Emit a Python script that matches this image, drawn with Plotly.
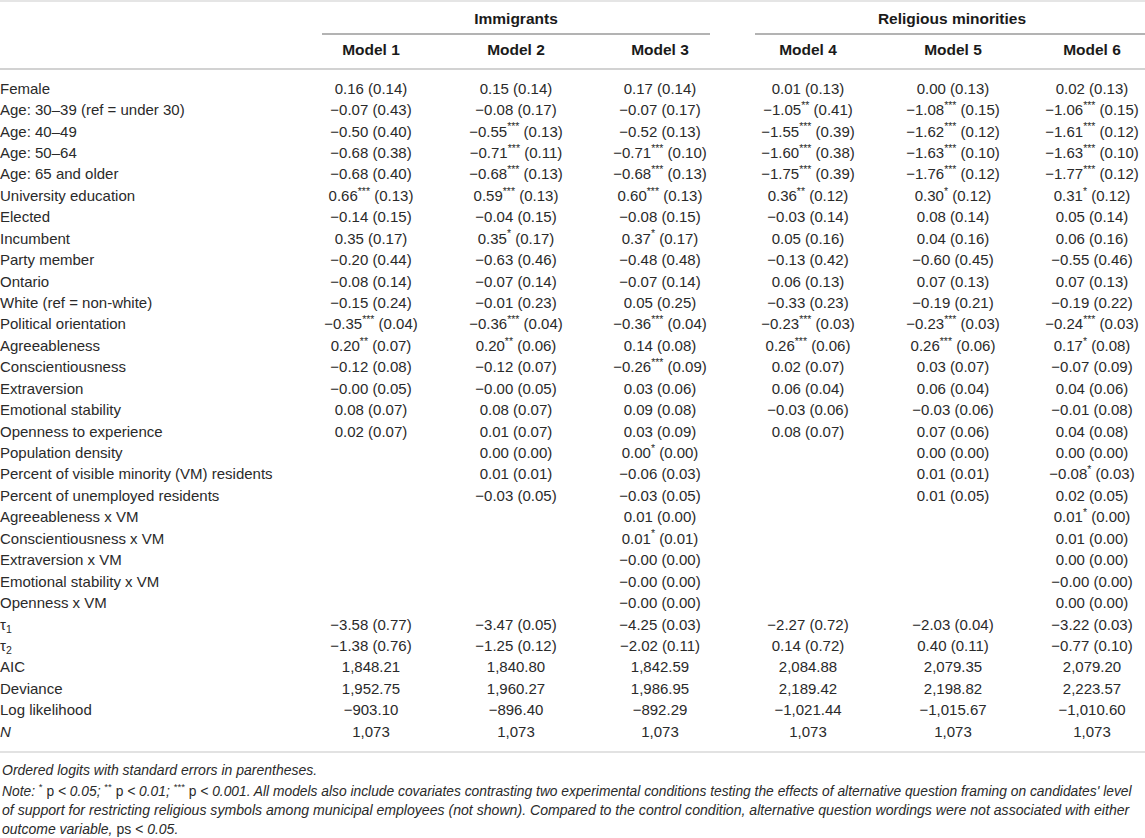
import numpy as np
import plotly.graph_objects as go

# -----------------------------
# Table content
# -----------------------------
row_labels = [
    "Female", "Age: 30–39 (ref = under 30)", "Age: 40–49", "Age: 50–64",
    "Age: 65 and older", "University education", "Elected", "Incumbent",
    "Party member", "Ontario", "White (ref = non-white)", "Political orientation",
    "Agreeableness", "Conscientiousness", "Extraversion", "Emotional stability",
    "Openness to experience", "Population density",
    "Percent of visible minority (VM) residents", "Percent of unemployed residents",
    "Agreeableness x VM", "Conscientiousness x VM", "Extraversion x VM",
    "Emotional stability x VM", "Openness x VM",
    "τ<sub>1</sub>", "τ<sub>2</sub>", "AIC", "Deviance", "Log likelihood", "<i>N</i>",
]

group_labels = ["Immigrants", "Religious minorities"]
model_labels = ["Model 1", "Model 2", "Model 3", "Model 4", "Model 5", "Model 6"]

# coefficient, stars, standard error (None = not in model)
model1 = [
    ("0.16", "", "0.14"), ("−0.07", "", "0.43"), ("−0.50", "", "0.40"), ("−0.68", "", "0.38"),
    ("−0.68", "", "0.40"), ("0.66", "***", "0.13"), ("−0.14", "", "0.15"), ("0.35", "", "0.17"),
    ("−0.20", "", "0.44"), ("−0.08", "", "0.14"), ("−0.15", "", "0.24"), ("−0.35", "***", "0.04"),
    ("0.20", "**", "0.07"), ("−0.12", "", "0.08"), ("−0.00", "", "0.05"), ("0.08", "", "0.07"),
    ("0.02", "", "0.07"), None, None, None, None, None, None, None, None,
    ("−3.58", "", "0.77"), ("−1.38", "", "0.76"),
]
model2 = [
    ("0.15", "", "0.14"), ("−0.08", "", "0.17"), ("−0.55", "***", "0.13"), ("−0.71", "***", "0.11"),
    ("−0.68", "***", "0.13"), ("0.59", "***", "0.13"), ("−0.04", "", "0.15"), ("0.35", "*", "0.17"),
    ("−0.63", "", "0.46"), ("−0.07", "", "0.14"), ("−0.01", "", "0.23"), ("−0.36", "***", "0.04"),
    ("0.20", "**", "0.06"), ("−0.12", "", "0.07"), ("−0.00", "", "0.05"), ("0.08", "", "0.07"),
    ("0.01", "", "0.07"), ("0.00", "", "0.00"), ("0.01", "", "0.01"), ("−0.03", "", "0.05"),
    None, None, None, None, None,
    ("−3.47", "", "0.05"), ("−1.25", "", "0.12"),
]
model3 = [
    ("0.17", "", "0.14"), ("−0.07", "", "0.17"), ("−0.52", "", "0.13"), ("−0.71", "***", "0.10"),
    ("−0.68", "***", "0.13"), ("0.60", "***", "0.13"), ("−0.08", "", "0.15"), ("0.37", "*", "0.17"),
    ("−0.48", "", "0.48"), ("−0.07", "", "0.14"), ("0.05", "", "0.25"), ("−0.36", "***", "0.04"),
    ("0.14", "", "0.08"), ("−0.26", "***", "0.09"), ("0.03", "", "0.06"), ("0.09", "", "0.08"),
    ("0.03", "", "0.09"), ("0.00", "*", "0.00"), ("−0.06", "", "0.03"), ("−0.03", "", "0.05"),
    ("0.01", "", "0.00"), ("0.01", "*", "0.01"), ("−0.00", "", "0.00"), ("−0.00", "", "0.00"),
    ("−0.00", "", "0.00"),
    ("−4.25", "", "0.03"), ("−2.02", "", "0.11"),
]
model4 = [
    ("0.01", "", "0.13"), ("−1.05", "**", "0.41"), ("−1.55", "***", "0.39"), ("−1.60", "***", "0.38"),
    ("−1.75", "***", "0.39"), ("0.36", "**", "0.12"), ("−0.03", "", "0.14"), ("0.05", "", "0.16"),
    ("−0.13", "", "0.42"), ("0.06", "", "0.13"), ("−0.33", "", "0.23"), ("−0.23", "***", "0.03"),
    ("0.26", "***", "0.06"), ("0.02", "", "0.07"), ("0.06", "", "0.04"), ("−0.03", "", "0.06"),
    ("0.08", "", "0.07"), None, None, None, None, None, None, None, None,
    ("−2.27", "", "0.72"), ("0.14", "", "0.72"),
]
model5 = [
    ("0.00", "", "0.13"), ("−1.08", "***", "0.15"), ("−1.62", "***", "0.12"), ("−1.63", "***", "0.10"),
    ("−1.76", "***", "0.12"), ("0.30", "*", "0.12"), ("0.08", "", "0.14"), ("0.04", "", "0.16"),
    ("−0.60", "", "0.45"), ("0.07", "", "0.13"), ("−0.19", "", "0.21"), ("−0.23", "***", "0.03"),
    ("0.26", "***", "0.06"), ("0.03", "", "0.07"), ("0.06", "", "0.04"), ("−0.03", "", "0.06"),
    ("0.07", "", "0.06"), ("0.00", "", "0.00"), ("0.01", "", "0.01"), ("0.01", "", "0.05"),
    None, None, None, None, None,
    ("−2.03", "", "0.04"), ("0.40", "", "0.11"),
]
model6 = [
    ("0.02", "", "0.13"), ("−1.06", "***", "0.15"), ("−1.61", "***", "0.12"), ("−1.63", "***", "0.10"),
    ("−1.77", "***", "0.12"), ("0.31", "*", "0.12"), ("0.05", "", "0.14"), ("0.06", "", "0.16"),
    ("−0.55", "", "0.46"), ("0.07", "", "0.13"), ("−0.19", "", "0.22"), ("−0.24", "***", "0.03"),
    ("0.17", "*", "0.08"), ("−0.07", "", "0.09"), ("0.04", "", "0.06"), ("−0.01", "", "0.08"),
    ("0.04", "", "0.08"), ("0.00", "", "0.00"), ("−0.08", "*", "0.03"), ("0.02", "", "0.05"),
    ("0.01", "*", "0.00"), ("0.01", "", "0.00"), ("0.00", "", "0.00"), ("−0.00", "", "0.00"),
    ("0.00", "", "0.00"),
    ("−3.22", "", "0.03"), ("−0.77", "", "0.10"),
]

# fit statistics: AIC, Deviance, Log likelihood, N
aic = ["1,848.21", "1,840.80", "1,842.59", "2,084.88", "2,079.35", "2,079.20"]
deviance = ["1,952.75", "1,960.27", "1,986.95", "2,189.42", "2,198.82", "2,223.57"]
log_lik = ["−903.10", "−896.40", "−892.29", "−1,021.44", "−1,015.67", "−1,010.60"]
n_obs = ["1,073", "1,073", "1,073", "1,073", "1,073", "1,073"]

footnotes = [
    "<i>Ordered logits with standard errors in parentheses.</i>",
    "<i>Note: </i><sup>*</sup> p <i>< 0.05; </i><sup>**</sup> p <i>< 0.01; </i><sup>***</sup> p <i>< 0.001. "
    "All models also include covariates contrasting two experimental conditions testing the effects "
    "of alternative question framing on candidates' level</i>",
    "<i>of support for restricting religious symbols among municipal employees (not shown). "
    "Compared to the control condition, alternative question wordings were not associated with either</i>",
    "<i>outcome variable, </i>ps<i> < 0.05.</i>",
]

# -----------------------------
# Layout constants (pixels)
# -----------------------------
W, H = 1145, 838
FONT = "Liberation Sans, Arial, Helvetica, sans-serif"
TXT = "#2a2a2a"
COL_X = [371, 516, 660, 808, 953, 1092]
GROUP_X = [516, 952]
ROW_TOP, ROW_H = 90, 21.43
FOOT_Y = [770, 790, 810, 829]
FOOT_SIZE = [14, 13.8, 14.1, 14]


def cell(entry):
    if entry is None:
        return ""
    coef, stars, se = entry
    star = f"<sup>{stars}</sup>" if stars else ""
    return f"{coef}{star} ({se})"


models = [model1, model2, model3, model4, model5, model6]
columns = []
for i, m in enumerate(models):
    columns.append([cell(e) for e in m] + [aic[i], deviance[i], log_lik[i], n_obs[i]])

row_y = ROW_TOP + ROW_H * np.arange(len(row_labels))

fig = go.Figure()

# row labels
fig.add_trace(go.Scatter(
    x=[0] * len(row_labels), y=row_y, text=row_labels, mode="text",
    textposition="middle right", textfont=dict(family=FONT, size=15, color=TXT),
    hoverinfo="skip", showlegend=False,
))

# model columns (skip the empty cells)
for cx, col in zip(COL_X, columns):
    keep = [k for k, t in enumerate(col) if t]
    fig.add_trace(go.Scatter(
        x=[cx] * len(keep), y=row_y[keep], text=[col[k] for k in keep], mode="text",
        textposition="middle center", textfont=dict(family=FONT, size=15, color=TXT),
        hoverinfo="skip", showlegend=False,
    ))

# headers
fig.add_trace(go.Scatter(
    x=GROUP_X, y=[20, 20], text=[f"<b>{g}</b>" for g in group_labels], mode="text",
    textposition="middle center", textfont=dict(family=FONT, size=15.5, color="#1a1a1a"),
    hoverinfo="skip", showlegend=False,
))
fig.add_trace(go.Scatter(
    x=COL_X, y=[51] * len(COL_X), text=[f"<b>{m}</b>" for m in model_labels], mode="text",
    textposition="middle center", textfont=dict(family=FONT, size=15.5, color="#1a1a1a"),
    hoverinfo="skip", showlegend=False,
))

# rules
rules = [
    (0, W, 1, "#dcdcdc", 1.5),
    (322, 710, 34, "#9a9a9a", 1.5),
    (755, W, 34, "#9a9a9a", 1.5),
    (0, W, 69, "#d2d2d2", 2),
    (0, W, 752, "#d9d9d9", 1.5),
]
for x0, x1, yy, c, w in rules:
    fig.add_shape(type="line", xref="x", yref="y", x0=x0, x1=x1, y0=yy, y1=yy,
                  line=dict(color=c, width=w))

# footnotes
for txt, fy, fs in zip(footnotes, FOOT_Y, FOOT_SIZE):
    fig.add_annotation(x=0, y=fy, xref="x", yref="y", text=txt, showarrow=False,
                       xanchor="left", yanchor="middle", align="left",
                       font=dict(family=FONT, size=fs, color=TXT))

fig.update_layout(
    width=W, height=H,
    margin=dict(l=0, r=0, t=0, b=0),
    paper_bgcolor="white", plot_bgcolor="white",
    xaxis=dict(range=[0, W], visible=False, fixedrange=True),
    yaxis=dict(range=[H, 0], visible=False, fixedrange=True),
)

fig.write_html(
    "out.html",
    config={"displayModeBar": False},
    post_script="document.body.style.margin='0px'; document.body.style.overflow='hidden';",
)
